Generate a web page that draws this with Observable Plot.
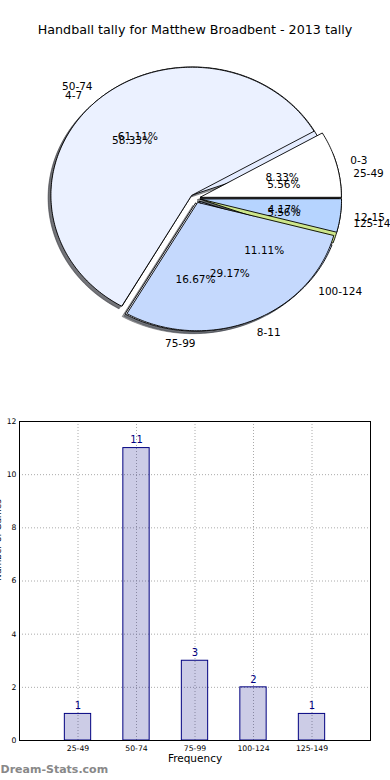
<!DOCTYPE html>
<html><head><meta charset="utf-8">
<script src="https://cdn.jsdelivr.net/npm/d3@7"></script>
<script src="https://cdn.jsdelivr.net/npm/@observablehq/plot@0.6"></script>
<style>
body{margin:0;background:#fff;font-family:"DejaVu Sans",sans-serif;}
#title{height:60px;line-height:60px;text-align:center;font-size:12.7px;color:#000;white-space:nowrap}
svg{display:block}
</style></head><body>
<div id="title"></div>
<div id="pie"></div>
<div id="bar"></div>
<script>
const chartTitle = "Handball tally for Matthew Broadbent - 2013 tally";
const tallyCats = ["0-3", "4-7", "8-11", "12-15"];
const tallyCounts = [2, 14, 7, 1];
const freqCats = ["25-49", "50-74", "75-99", "100-124", "125-149"];
const freqCounts = [1, 11, 3, 2, 1];
const yTicks = [0, 2, 4, 6, 8, 10, 12];
const xLabel = "Frequency";
const yLabel = "Number of Games";
const watermark = "Dream-Stats.com";

const tallyColors = ["#ffffff", "#ebf1ff", "#c5d9fd", "#b6d4ff"];
const freqColors = ["#f2f6ff", "#e4ecff", "#f4f7ff", "#c2d7ff", "#cde68a"];

document.getElementById("title").textContent = chartTitle;

function wedges(cats, vals, colors, explode) {
  const total = d3.sum(vals);
  let start = 0;
  const slices = [], labels = [];
  cats.forEach((c, i) => {
    const frac = vals[i] / total;
    const t1 = start * 360, t2 = (start + frac) * 360;
    const tm = (t1 + t2) / 2 * Math.PI / 180;
    const ox = explode * Math.cos(tm), oy = explode * Math.sin(tm);
    const n = Math.max(2, Math.ceil(t2 - t1));
    const pts = [{x: ox, y: oy}];
    for (let k = 0; k <= n; k++) {
      const a = (t1 + (t2 - t1) * k / n) * Math.PI / 180;
      pts.push({x: ox + Math.cos(a), y: oy + Math.sin(a)});
    }
    slices.push({cat: c, color: colors[i], pts});
    labels.push({
      cat: c,
      pct: (frac * 100).toFixed(2) + "%",
      lx: ox + 1.1 * Math.cos(tm), ly: oy + 1.1 * Math.sin(tm),
      px: ox + 0.6 * Math.cos(tm), py: oy + 0.6 * Math.sin(tm),
      anchor: Math.cos(tm) > 0 ? "start" : "end"
    });
    start += frac;
  });
  return {slices, labels};
}

const explode = 0.036;
const pieA = wedges(freqCats, freqCounts, freqColors, explode);
const pieB = wedges(tallyCats, tallyCounts, tallyColors, explode);

function shadowMarks(pie) {
  return pie.slices.map(s => {
    const c = d3.rgb(s.color);
    const sc = d3.rgb(c.r * 0.3, c.g * 0.3, c.b * 0.3).formatHex();
    return Plot.line(s.pts.map(p => ({x: p.x - 0.02, y: p.y - 0.02})), {
      x: "x", y: "y", curve: "linear-closed",
      fill: sc, fillOpacity: 0.5, stroke: sc, strokeOpacity: 0.5, strokeWidth: 1
    });
  });
}
function wedgeMarks(pie) {
  return pie.slices.map(s => Plot.line(s.pts, {
    x: "x", y: "y", curve: "linear-closed",
    fill: s.color, stroke: "#000", strokeWidth: 0.9
  }));
}
function labelMarks(pie) {
  return [
    Plot.text(pie.labels.filter(d => d.anchor === "start"), {x: "lx", y: "ly", text: "cat", textAnchor: "start", fontSize: 10.5, fill: "#000"}),
    Plot.text(pie.labels.filter(d => d.anchor === "end"), {x: "lx", y: "ly", text: "cat", textAnchor: "end", fontSize: 10.5, fill: "#000"}),
    Plot.text(pie.labels, {x: "px", y: "py", text: "pct", fontSize: 10.5, fill: "#000"})
  ];
}

const rx = 141, ry = 128, cx = 195, cy = 138;
const piePlot = Plot.plot({
  width: 390, height: 340, margin: 0,
  style: {fontFamily: "DejaVu Sans", background: "transparent"},
  x: {domain: [-1, 1], range: [cx - rx, cx + rx], axis: null},
  y: {domain: [-1, 1], range: [cy + ry, cy - ry], axis: null},
  marks: [
    ...shadowMarks(pieA), ...shadowMarks(pieB),
    ...wedgeMarks(pieA), ...wedgeMarks(pieB),
    ...labelMarks(pieA), ...labelMarks(pieB)
  ]
});
document.getElementById("pie").appendChild(piePlot);

const barData = freqCats.map((c, i) => ({cat: c, count: freqCounts[i]}));
const barPlot = Plot.plot({
  width: 390, height: 380,
  marginTop: 21, marginLeft: 19, marginRight: 20, marginBottom: 40,
  style: {fontFamily: "DejaVu Sans", background: "transparent", color: "#000"},
  x: {type: "band", domain: freqCats, paddingInner: 0.55, paddingOuter: 0.775, round: false, label: null, axis: null},
  y: {domain: [0, 12], label: null, axis: null},
  marks: [
    Plot.gridY(yTicks, {stroke: "#aaa", strokeOpacity: 1, strokeDasharray: "1,2"}),
    Plot.gridX(freqCats, {stroke: "#aaa", strokeOpacity: 1, strokeDasharray: "1,2"}),
    Plot.barY(barData, {x: "cat", y: "count", fill: "#000080", fillOpacity: 0.2, stroke: "#000080", strokeWidth: 1}),
    Plot.text(barData, {x: "cat", y: "count", text: d => String(d.count), dy: -8, fill: "#000080", fontSize: 10}),
    Plot.frame({stroke: "#000"}),
    Plot.axisY(yTicks, {tickSize: 0, tickPadding: 3, fontSize: 7.7, label: null}),
    Plot.axisX(freqCats, {tickSize: 0, tickPadding: 5, fontSize: 7.7, label: null}),
    Plot.text([xLabel], {frameAnchor: "bottom", dy: 21, fontSize: 10.5, fill: "#000"}),
    Plot.text([yLabel], {frameAnchor: "left", dx: -21, rotate: -90, fontSize: 9, fill: "#000"}),
    Plot.text([watermark], {frameAnchor: "bottom-left", dx: -19, dy: 32, textAnchor: "start", fill: "#888", fontWeight: 600, fontSize: 11})
  ]
});
document.getElementById("bar").appendChild(barPlot);
</script>
</body></html>
